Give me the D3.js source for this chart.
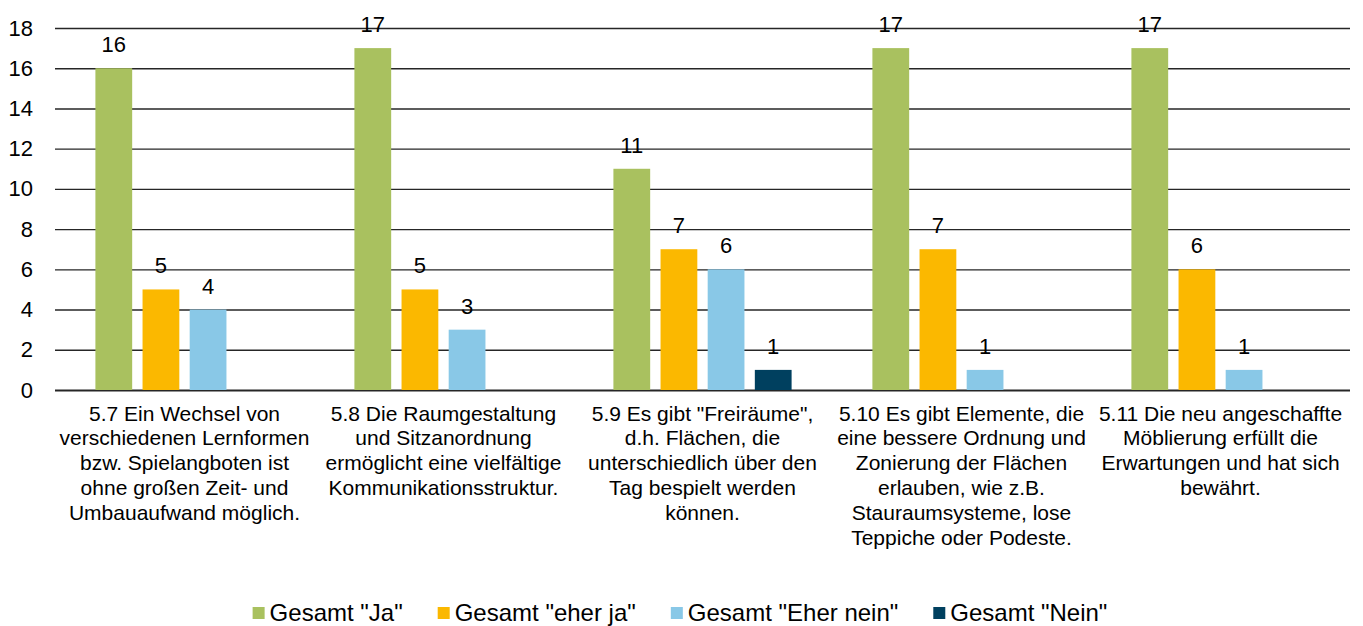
<!DOCTYPE html>
<html>
<head>
<meta charset="utf-8">
<script src="https://cdn.jsdelivr.net/npm/d3@7"></script>
<style>
  html, body { margin: 0; padding: 0; background: #fff; }
  svg { display: block; font-family: Arial, "Liberation Sans", sans-serif; }
</style>
</head>
<body>
<svg id="chart" width="1363" height="626"></svg>
<script>
const categories = [
  ["5.7 Ein Wechsel von", "verschiedenen Lernformen", "bzw. Spielangboten ist", "ohne großen Zeit- und", "Umbauaufwand möglich."],
  ["5.8 Die Raumgestaltung", "und Sitzanordnung", "ermöglicht eine vielfältige", "Kommunikationsstruktur."],
  ["5.9 Es gibt \"Freiräume\",", "d.h. Flächen, die", "unterschiedlich über den", "Tag bespielt werden", "können."],
  ["5.10 Es gibt Elemente, die", "eine bessere Ordnung und", "Zonierung der Flächen", "erlauben, wie z.B.", "Stauraumsysteme, lose", "Teppiche oder Podeste."],
  ["5.11 Die neu angeschaffte", "Möblierung erfüllt die", "Erwartungen und hat sich", "bewährt."]
];
const seriesNames = ['Gesamt "Ja"', 'Gesamt "eher ja"', 'Gesamt "Eher nein"', 'Gesamt "Nein"'];
const valuesJa = [16, 17, 11, 17, 17];
const valuesEherJa = [5, 5, 7, 7, 6];
const valuesEherNein = [4, 3, 6, 1, 1];
const valuesNein = [0, 0, 1, 0, 0];
const yTicks = [0, 2, 4, 6, 8, 10, 12, 14, 16, 18];
const colors = ["#A9C15F", "#FBB800", "#89C8E7", "#00405F"];

const seriesValues = [valuesJa, valuesEherJa, valuesEherNein, valuesNein];
const svg = d3.select("#chart");

const mLeft = 55, mRight = 1350, mTop = 28, mBottom = 390;
const catIdx = categories.map((d, i) => i);
const x0 = d3.scaleBand().domain(catIdx).range([mLeft, mRight]).paddingInner(0).paddingOuter(0);
const groupW = x0.bandwidth() * 0.688;
const x1 = d3.scaleBand().domain(d3.range(4)).range([0, groupW]).paddingInner(0.22).paddingOuter(0);
const y = d3.scaleLinear().domain([0, 18]).range([mBottom, mTop]);

// gridlines
const yAxis = d3.axisLeft(y).tickValues(yTicks).tickSize(-(mRight - mLeft)).tickPadding(22);
const ga = svg.append("g").attr("transform", `translate(${mLeft},0)`).call(yAxis);
ga.select(".domain").remove();
ga.selectAll(".tick line").attr("stroke", "#262626").attr("stroke-width", 1.4);
ga.selectAll(".tick text").attr("font-size", 22).attr("fill", "#000").attr("font-family", "Arial, 'Liberation Sans', sans-serif");
ga.selectAll(".tick").filter(d => d === 0).select("line").attr("stroke-width", 2.2);

// bars
const groups = svg.append("g").selectAll("g").data(catIdx).join("g")
  .attr("transform", i => `translate(${x0(i) + (x0.bandwidth() - groupW) / 2},0)`);

groups.selectAll("rect")
  .data(i => seriesValues.map((vals, s) => ({ s, v: vals[i] })).filter(d => d.v > 0))
  .join("rect")
  .attr("x", d => x1(d.s))
  .attr("width", x1.bandwidth())
  .attr("y", d => y(d.v))
  .attr("height", d => y(0) - y(d.v))
  .attr("fill", d => colors[d.s]);

groups.selectAll("text.val")
  .data(i => seriesValues.map((vals, s) => ({ s, v: vals[i] })).filter(d => d.v > 0))
  .join("text")
  .attr("class", "val")
  .attr("x", d => x1(d.s) + x1.bandwidth() / 2)
  .attr("y", d => y(d.v) - 16)
  .attr("text-anchor", "middle")
  .attr("font-size", 22)
  .attr("fill", "#000")
  .text(d => d.v);

// category labels
const catG = svg.append("g");
categories.forEach((lines, i) => {
  const cxp = x0(i) + x0.bandwidth() / 2;
  const t = catG.append("text")
    .attr("text-anchor", "middle")
    .attr("font-size", 21)
    .attr("fill", "#000");
  lines.forEach((ln, k) => {
    t.append("tspan").attr("x", cxp).attr("y", 420.5 + k * 24.8).text(ln);
  });
});

// legend
const leg = svg.append("g");
let lx = 0;
const legGap = 35;
seriesNames.forEach((name, s) => {
  const g = leg.append("g");
  g.append("rect").attr("x", lx).attr("y", -6).attr("width", 12).attr("height", 12).attr("fill", colors[s]);
  const txt = g.append("text").attr("x", lx + 17).attr("y", 8).attr("font-size", 24).attr("fill", "#000").text(name);
  const w = txt.node().getComputedTextLength();
  lx += 17 + w + legGap;
});
const totalW = lx - legGap;
leg.attr("transform", `translate(${680 - totalW / 2},613)`);
</script>
</body>
</html>
